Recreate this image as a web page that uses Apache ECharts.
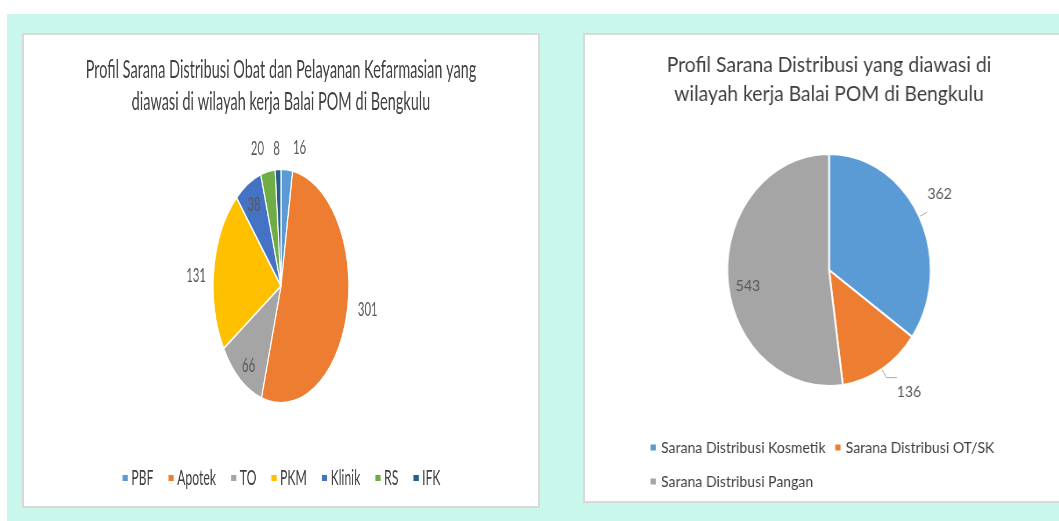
<!DOCTYPE html>
<html>
<head>
<meta charset="utf-8">
<script src="https://cdn.jsdelivr.net/npm/echarts@6/dist/echarts.min.js"></script>
<style>
  html, body { margin: 0; padding: 0; width: 1059px; height: 521px; overflow: hidden; background: #fff; }
  .bg { position: absolute; left: 7px; top: 14px; width: 1100px; height: 520px; background: #c9f7ec; }
  .panel { position: absolute; background: #fff; border: 2px solid #d9d9d9; box-sizing: border-box; overflow: hidden; }
  #leftPanel { left: 22px; top: 33px; width: 518px; height: 475px; }
  #rightPanel { left: 583px; top: 33px; width: 492px; height: 470px; }
  .chart { position: absolute; left: -2px; top: -2px; transform-origin: 0 0; }
  /* the source picture is squeezed sideways, so the charts are too */
  #leftChart { width: 893px; height: 475px; transform: scaleX(0.58); }
  #rightChart { width: 561px; height: 470px; transform: scaleX(0.877); }
</style>
</head>
<body>
<div class="bg"></div>
<div class="panel" id="leftPanel"><div class="chart" id="leftChart"></div></div>
<div class="panel" id="rightPanel"><div class="chart" id="rightChart"></div></div>

<script>
// left chart: sarana distribusi obat & pelayanan kefarmasian
const obatNames = ['PBF', 'Apotek', 'TO', 'PKM', 'Klinik', 'RS', 'IFK']
const obatValues = [16, 301, 66, 131, 38, 20, 8]
const obatColors = ['#5b9bd5', '#ed7d31', '#a5a5a5', '#ffc000', '#4472c4', '#70ad47', '#255e91']
const obatInside = ['TO', 'Klinik']

// right chart: sarana distribusi
const saranaNames = ['Sarana Distribusi Kosmetik', 'Sarana Distribusi OT/SK', 'Sarana Distribusi Pangan']
const saranaValues = [362, 136, 543]
const saranaColors = ['#5b9bd5', '#ed7d31', '#a5a5a5']
const saranaInside = ['Sarana Distribusi Pangan']

const font = 'Lato'

// small shifts so labels sit where Excel's "best fit" put them
const leftNudge = [[4.8, -12], [4, -6], [-18.6, 31], [1.2, 8.5], [-16.4, -28], [0.3, -12.4], [8.6, -10]]
const rightNudge = [[-4.6, -18], [-5.2, 13.8], [-31.6, 12.1]]

const leftChart = echarts.init(document.getElementById('leftChart'))
leftChart.setOption({
  animation: false,
  title: {
    text: 'Profil Sarana Distribusi Obat dan Pelayanan Kefarmasian yang\ndiawasi di wilayah kerja Balai POM di Bengkulu',
    left: 'center',
    top: 21,
    padding: 0,
    textStyle: { fontFamily: font, fontSize: 25, fontWeight: 'normal', color: '#404040', lineHeight: 32 },
  },
  legend: {
    left: 'center',
    top: 428,
    itemWidth: 11,
    itemHeight: 8,
    itemGap: 24,
    icon: 'rect',
    textStyle: { fontFamily: font, fontSize: 21, color: '#404040', lineHeight: 24 },
    data: obatNames,
  },
  series: [
    {
      type: 'pie',
      center: ['50%', 253],
      radius: 117,
      startAngle: 90,
      avoidLabelOverlap: false,
      itemStyle: { borderColor: '#fff', borderWidth: 2 },
      label: { show: true, formatter: '{c}', fontFamily: font, fontSize: 19.5, color: '#595959' },
      labelLine: { show: false, length: 10, length2: 0 },
      labelLayout: p => ({ dx: leftNudge[p.dataIndex][0], dy: leftNudge[p.dataIndex][1] }),
      emphasis: { disabled: true },
      data: obatNames.map((n, i) => ({
        name: n,
        value: obatValues[i],
        itemStyle: { color: obatColors[i] },
        label: { position: obatInside.includes(n) ? 'inside' : 'outside' },
      })),
    },
  ],
})

const rightChart = echarts.init(document.getElementById('rightChart'))
rightChart.setOption({
  animation: false,
  title: {
    text: 'Profil Sarana Distribusi yang diawasi di\nwilayah kerja Balai POM di Bengkulu',
    left: 'center',
    top: 17.5,
    padding: 0,
    textStyle: { fontFamily: font, fontSize: 22, fontWeight: 'normal', color: '#404040', lineHeight: 29 },
  },
  legend: {
    left: 70,
    top: 397,
    width: 440,
    itemWidth: 8,
    itemHeight: 8,
    itemGap: 9,
    icon: 'rect',
    textStyle: { fontFamily: font, fontSize: 16, color: '#404040', lineHeight: 25 },
    data: saranaNames,
  },
  series: [
    {
      type: 'pie',
      center: ['50%', 237],
      radius: 116,
      startAngle: 90,
      avoidLabelOverlap: false,
      itemStyle: { borderColor: '#fff', borderWidth: 2 },
      label: { show: true, formatter: '{c}', fontFamily: font, fontSize: 16, color: '#595959' },
      labelLine: { show: true, length: 10, length2: 0, lineStyle: { color: '#a6a6a6', width: 1 } },
      labelLayout: p => ({ dx: rightNudge[p.dataIndex][0], dy: rightNudge[p.dataIndex][1] }),
      emphasis: { disabled: true },
      data: saranaNames.map((n, i) => ({
        name: n,
        value: saranaValues[i],
        itemStyle: { color: saranaColors[i] },
        label: { position: saranaInside.includes(n) ? 'inside' : 'outside' },
        labelLine: i === 1 ? { length2: 12 } : {},
      })),
    },
  ],
})
</script>
</body>
</html>
